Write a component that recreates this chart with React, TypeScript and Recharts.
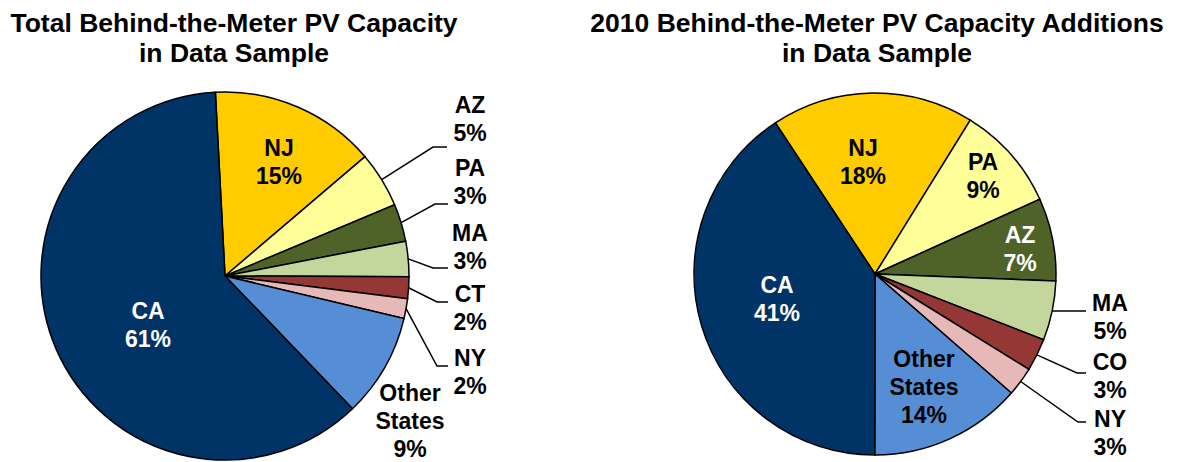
import React from 'react';
import { PieChart, Pie, Cell } from 'recharts';

// ---------- data ----------
const leftStates = ['NJ', 'AZ', 'PA', 'MA', 'CT', 'NY', 'Other States', 'CA'];
const leftShares = [14.6, 4.9, 3.3, 3.1, 1.9, 1.75, 9.1, 61.35];

const rightStates = ['NJ', 'PA', 'AZ', 'MA', 'CO', 'NY', 'Other States', 'CA'];
const rightShares = [18.1, 9.4, 7.4, 5.3, 2.9, 2.6, 13.6, 40.7];

const leftTitle = ['Total Behind-the-Meter PV Capacity', 'in Data Sample'];
const rightTitle = ['2010 Behind-the-Meter PV Capacity Additions', 'in Data Sample'];

// ---------- styles ----------
const sliceColors = ['#FFCC00', '#FFFF99', '#4F6228', '#C3D69B', '#953735', '#E6B9B8', '#558ED5', '#003366'];
const FONT = '"Liberation Sans", Arial, Helvetica, sans-serif';
const LABEL_SIZE = 23;
const LH = 28;
const RAD = Math.PI / 180;

type Layout = {
  dx: number;
  dy: number;
  color: string;
  leader?: { ly: number; ex: number; end: number };
};

const leftLayout: Layout[] = [
  { dx: 54, dy: -114, color: '#000' },
  { dx: 245, dy: -157, color: '#000', leader: { ly: -129, ex: 208, end: 222 } },
  { dx: 245, dy: -94, color: '#000', leader: { ly: -72, ex: 210, end: 223 } },
  { dx: 245, dy: -29, color: '#000', leader: { ly: -8, ex: 208, end: 223 } },
  { dx: 245, dy: 32, color: '#000', leader: { ly: 26, ex: 212, end: 223 } },
  { dx: 245, dy: 96, color: '#000', leader: { ly: 90, ex: 212, end: 223 } },
  { dx: 185, dy: 145, color: '#000' },
  { dx: -77, dy: 49, color: '#fff' },
];

const rightLayout: Layout[] = [
  { dx: -12, dy: -112, color: '#000' },
  { dx: 108, dy: -98, color: '#000' },
  { dx: 145, dy: -25, color: '#fff' },
  { dx: 235, dy: 43, color: '#000', leader: { ly: 37, ex: 198, end: 211 } },
  { dx: 235, dy: 102, color: '#000', leader: { ly: 99, ex: 202, end: 211 } },
  { dx: 235, dy: 159, color: '#000', leader: { ly: 148, ex: 203, end: 211 } },
  { dx: 49, dy: 113, color: '#000' },
  { dx: -98, dy: 25, color: '#fff' },
];

const leftData = leftStates.map((s, i) => ({ state: s, share: leftShares[i] }));
const rightData = rightStates.map((s, i) => ({ state: s, share: rightShares[i] }));

function makeLabel(layout: Layout[]) {
  return (props: any) => {
    const { cx, cy, midAngle, outerRadius, index, percent } = props;
    const L = layout[index];
    if (!L) return null;
    const name: string = (props.payload && props.payload.state) || props.name || '';
    const lines = [...name.split(' '), `${Math.round(percent * 100)}%`];
    const tx = cx + L.dx;
    const ty = cy + L.dy;
    const n = lines.length;
    let leader = null;
    if (L.leader) {
      const sx = cx + outerRadius * Math.cos(-midAngle * RAD);
      const sy = cy + outerRadius * Math.sin(-midAngle * RAD);
      const ly = cy + L.leader.ly;
      leader = (
        <polyline
          points={`${sx},${sy} ${cx + L.leader.ex},${ly} ${cx + L.leader.end},${ly}`}
          fill="none"
          stroke="#000"
          strokeWidth={1.5}
        />
      );
    }
    return (
      <g key={`lbl-${index}`}>
        {leader}
        <text
          textAnchor="middle"
          fill={L.color}
          stroke="none"
          fontFamily={FONT}
          fontWeight="bold"
          fontSize={LABEL_SIZE}
        >
          {lines.map((t, i) => (
            <tspan key={i} x={tx} y={ty + (i - (n - 1) / 2) * LH + 8}>
              {t}
            </tspan>
          ))}
        </text>
      </g>
    );
  };
}

function Title({ lines, cx }: { lines: string[]; cx: number }) {
  return (
    <div
      style={{
        position: 'absolute',
        left: cx - 350,
        top: 8,
        width: 700,
        textAlign: 'center',
        fontFamily: FONT,
        fontWeight: 'bold',
        fontSize: 26.5,
        lineHeight: '30px',
        color: '#000',
      }}
    >
      {lines.map((l, i) => (
        <div key={i}>{l}</div>
      ))}
    </div>
  );
}

export default function App() {
  return (
    <div style={{ position: 'absolute', left: 0, top: 0, width: 1177, height: 462, background: '#fff' }}>
      <PieChart width={1177} height={462} margin={{ top: 0, right: 0, bottom: 0, left: 0 }}>
        <Pie
          data={leftData}
          dataKey="share"
          nameKey="state"
          cx={225}
          cy={276}
          outerRadius={184}
          startAngle={93}
          endAngle={-267}
          stroke="#000"
          strokeWidth={1.5}
          isAnimationActive={false}
          labelLine={false}
          label={makeLabel(leftLayout)}
        >
          {leftData.map((d, i) => (
            <Cell key={d.state} fill={sliceColors[i]} />
          ))}
        </Pie>
        <Pie
          data={rightData}
          dataKey="share"
          nameKey="state"
          cx={875}
          cy={274}
          outerRadius={181}
          startAngle={123.4}
          endAngle={-236.6}
          stroke="#000"
          strokeWidth={1.5}
          isAnimationActive={false}
          labelLine={false}
          label={makeLabel(rightLayout)}
        >
          {rightData.map((d, i) => (
            <Cell key={d.state} fill={sliceColors[i]} />
          ))}
        </Pie>
      </PieChart>
      <Title lines={leftTitle} cx={234} />
      <Title lines={rightTitle} cx={877} />
    </div>
  );
}
